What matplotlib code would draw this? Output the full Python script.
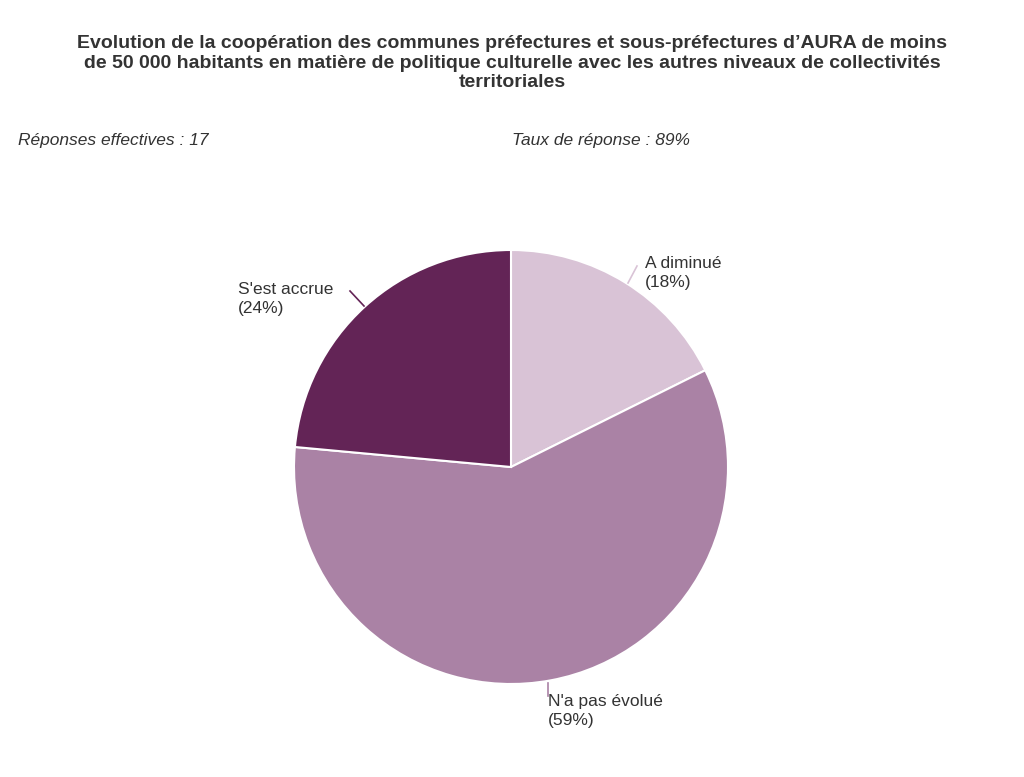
import matplotlib
matplotlib.use("Agg")
import matplotlib.pyplot as plt
from matplotlib.lines import Line2D

# Données (17 réponses)
categories = ["A diminué", "N'a pas évolué", "S'est accrue"]
counts = [3, 10, 4]
pct_labels = ["18%", "59%", "24%"]
colors = ["#d9c3d6", "#aa82a5", "#632456"]

W, H = 1024, 777
fig = plt.figure(figsize=(W / 100, H / 100), dpi=100)
fig.patch.set_facecolor("white")

def fx(x): return x / W
def fy(y): return 1 - y / H

fig.text(0.5, fy(63), "Evolution de la coopération des communes préfectures et sous-préfectures d’AURA de moins\n"
         "de 50 000 habitants en matière de politique culturelle avec les autres niveaux de collectivités\n"
         "territoriales", ha="center", va="center", fontsize=14, fontweight="bold",
         color="#333333", linespacing=1.2, family="Liberation Sans")
fig.text(fx(18), fy(140), "Réponses effectives : 17", ha="left", va="center",
         fontsize=12.5, style="italic", color="#333333", family="Liberation Sans")
fig.text(fx(512), fy(140), "Taux de réponse : 89%", ha="left", va="center",
         fontsize=12.5, style="italic", color="#333333", family="Liberation Sans")

cx, cy, r = 511, 467, 217
ax = fig.add_axes([fx(cx - r), fy(cy + r), 2 * r / W, 2 * r / H])
ax.pie(counts, colors=colors, startangle=90, counterclock=False,
       wedgeprops=dict(edgecolor="white", linewidth=1.5))
ax.set_xlim(-1, 1)
ax.set_ylim(-1, 1)
ax.set_aspect("auto")
ax.axis("off")

# étiquettes avec traits de rappel
label_pos = [(645, 273, "left", [(628, 283), (637, 266)]),
             (548, 711, "left", [(548, 683), (548, 696)]),
             (238, 299, "left", [(364, 306), (350, 291)])]
for (x, y, ha, pts), cat, p, c in zip(label_pos, categories, pct_labels, colors):
    fig.text(fx(x), fy(y), f"{cat}\n({p})", ha=ha, va="center", fontsize=12.5,
             color="#333333", linespacing=1.3, family="Liberation Sans")
    fig.add_artist(Line2D([fx(pts[0][0]), fx(pts[1][0])], [fy(pts[0][1]), fy(pts[1][1])],
                          color=c, lw=1.2, transform=fig.transFigure))

fig.savefig("out.png", dpi=100)
